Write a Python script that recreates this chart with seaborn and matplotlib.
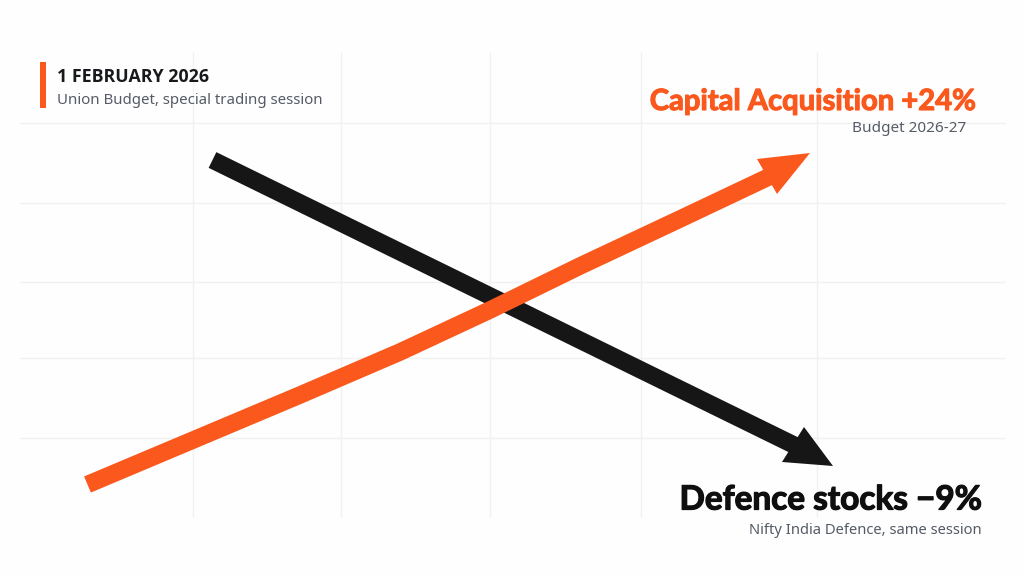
import matplotlib.pyplot as plt
import matplotlib.patheffects as pe
import pandas as pd
import seaborn as sns

# Picture is read in pixels, so the axes run over the whole canvas
CANVAS_W = 1024
CANVAS_H = 576
ORANGE = '#fa581c'
BLACK = '#161616'
GRID = '#f1f1f1'
GREY = '#555b66'

grid_x = [193, 341, 490, 641, 817]
grid_y = [123, 203, 282, 358, 438]

# Arrow shafts (the orange one steepens a little past the middle)
defence_x = [212.5, 800]
defence_y = [160, 448]
capital_x = [87.5, 300, 400, 490, 580, 680, 775]
capital_y = [484.5, 395, 352, 310, 266, 219, 174]

# Arrow heads: tip and the two barbs
defence_head_x = [833, 804, 782]
defence_head_y = [466, 427, 462]
capital_head_x = [810, 757, 777]
capital_head_y = [153, 159, 194]


def px_to_pt(px):
    """Pixels to points at 100 dpi"""
    return px * 72 / 100


def draw_arrow(ax, xs, ys, head_x, head_y, color, width_px, z):
    df = pd.DataFrame({'x': xs, 'y': ys})
    sns.lineplot(data=df, x='x', y='y', ax=ax, color=color, sort=False,
                 linewidth=px_to_pt(width_px), solid_capstyle='butt',
                 solid_joinstyle='round', zorder=z, legend=False)
    ax.fill(head_x, head_y, color=color, linewidth=0, zorder=z)


sns.set_theme(style='white')
fig, ax = plt.subplots(figsize=(CANVAS_W / 100, CANVAS_H / 100), dpi=100)
ax.set_position([0, 0, 1, 1])
fig.patch.set_facecolor('#fefefe')

ax.vlines(grid_x, 52, 517, color=GRID, linewidth=1, zorder=1)
ax.hlines(grid_y, 20, 1005, color=GRID, linewidth=1, zorder=1)

draw_arrow(ax, defence_x, defence_y, defence_head_x, defence_head_y, BLACK, 17.5, 3)
draw_arrow(ax, capital_x, capital_y, capital_head_x, capital_head_y, ORANGE, 17.5, 4)

# set after seaborn, which rescales the view
ax.set_xlim(0, CANVAS_W)
ax.set_ylim(CANVAS_H, 0)
ax.axis('off')

# Date block, top left
ax.fill_between([40, 45.5], 62, 108, color=ORANGE, linewidth=0, zorder=4)
ax.text(57, 77, '1 FEBRUARY 2026', fontsize=12.8, fontweight='bold', family='Open Sans',
        color='#17191d', va='center', ha='left')
ax.text(57, 101, 'Union Budget, special trading session', fontsize=10.8, family='Noto Sans',
        color=GREY, va='center', ha='left')

# Series labels
heavy_orange = [pe.withStroke(linewidth=0.8, foreground=ORANGE)]
heavy_black = [pe.withStroke(linewidth=0.9, foreground='#0f0f0f')]
ax.text(976, 102, 'Capital Acquisition +24%', fontsize=21, fontweight='bold', family='Lato',
        color=ORANGE, va='center', ha='right', path_effects=heavy_orange)
ax.text(966, 129, 'Budget 2026-27', fontsize=11, family='Noto Sans', color=GREY,
        va='center', ha='right')
ax.text(982, 500, 'Defence stocks \u22129%', fontsize=24, fontweight='bold', family='Lato',
        color='#0f0f0f', va='center', ha='right', path_effects=heavy_black)
ax.text(982, 531, 'Nifty India Defence, same session', fontsize=10.65, family='Noto Sans',
        color=GREY, va='center', ha='right')

fig.savefig('out.png', dpi=100, facecolor=fig.get_facecolor())
plt.close(fig)
